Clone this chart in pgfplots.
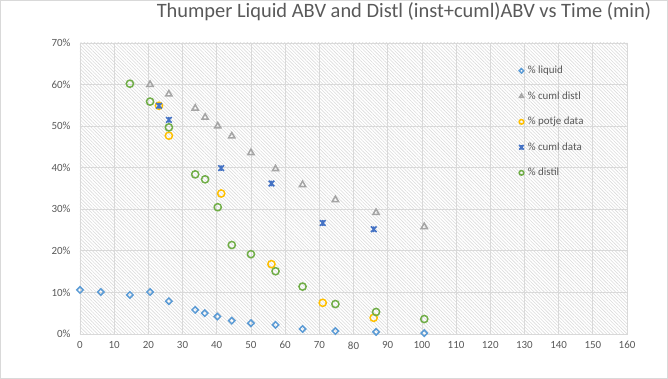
\documentclass[border=0pt]{standalone}
\usepackage{pgfplots}
\pgfplotsset{compat=1.18}
\usepackage{fontspec}
\setmainfont{Carlito}
\usetikzlibrary{patterns.meta}
\definecolor{cliq}{HTML}{5B9BD5}
\definecolor{ccd}{HTML}{A5A5A5}
\definecolor{cpot}{HTML}{FFC000}
\definecolor{ccdata}{HTML}{4472C4}
\definecolor{cdis}{HTML}{70AD47}
\definecolor{textc}{HTML}{595959}
\definecolor{gridc}{HTML}{D9D9D9}
\pgfdeclareplotmark{xstar}{%
\pgfpathmoveto{\pgfqpoint{-\pgfplotmarksize}{-\pgfplotmarksize}}%
\pgfpathlineto{\pgfqpoint{\pgfplotmarksize}{\pgfplotmarksize}}%
\pgfpathmoveto{\pgfqpoint{-\pgfplotmarksize}{\pgfplotmarksize}}%
\pgfpathlineto{\pgfqpoint{\pgfplotmarksize}{-\pgfplotmarksize}}%
\pgfpathmoveto{\pgfqpoint{0pt}{-\pgfplotmarksize}}%
\pgfpathlineto{\pgfqpoint{0pt}{\pgfplotmarksize}}%
\pgfusepathqstroke}
\pgfdeclareplotmark{dmd}{%
\pgfpathmoveto{\pgfqpoint{0pt}{\pgfplotmarksize}}%
\pgfpathlineto{\pgfqpoint{\pgfplotmarksize}{0pt}}%
\pgfpathlineto{\pgfqpoint{0pt}{-\pgfplotmarksize}}%
\pgfpathlineto{\pgfqpoint{-\pgfplotmarksize}{0pt}}%
\pgfpathclose
\pgfusepathqstroke}
\begin{document}
\begin{tikzpicture}
\begin{axis}[
  at={(0,0)}, anchor=south west,
  width=547bp, height=291bp, scale only axis,
  xmin=0, xmax=160, ymin=0, ymax=70,
  xtick={0,10,...,160}, ytick={0,10,...,70},
  yticklabel={\pgfmathprintnumber{\tick}\%},
  /pgf/number format/assume math mode=true,
  grid=major, major grid style={draw=gridc, line width=0.75bp},
  axis line style={draw=gridc, line width=0.75bp},
  tick style={draw=none},
  ticklabel style={font=\fontsize{11}{13}\selectfont, text=textc},
  yticklabel style={xshift=-6bp},
  xticklabel style={yshift=-4bp},
  axis background/.style={pattern={Lines[angle=-45,distance=2.4bp,line width=0.6bp]}, pattern color=gray!28},
  only marks,
  legend image code/.code={\draw[mark repeat=1,#1,mark size=2.3bp] plot coordinates {(0cm,0cm)};},
  legend style={draw=none, fill=none, at={(rel axis cs:0.797,0.935)}, anchor=north west,
    font=\fontsize{11}{13}\selectfont, text=textc, row sep=12bp,
    /tikz/every odd column/.append style={column sep=2.5bp},
    /tikz/every even column/.append style={column sep=0bp},
    nodes={text height=8bp, text depth=2.5bp, inner sep=1.5bp}},
  legend cell align=left,
]
\addplot[mark=dmd, mark size=3.2bp, draw=cliq, line width=1.5bp] coordinates {
(0,10.6) (6.1,10.1) (14.6,9.4) (20.5,10.1) (26.0,7.9) (33.7,5.8) (36.5,5.0)
(40.2,4.2) (44.4,3.2) (50.0,2.6) (57.2,2.2) (65.1,1.2) (74.7,0.7) (86.6,0.5) (100.7,0.2)};
\addlegendentry{\% liquid}
\addplot[mark=triangle, mark size=3.6bp, draw=ccd, line width=1.5bp] coordinates {
(20.5,60.0) (26.0,57.7) (33.7,54.3) (36.6,52.1) (40.3,50.0) (44.4,47.6) (50.0,43.6)
(57.2,39.7) (65.1,35.9) (74.7,32.3) (86.6,29.2) (100.7,25.8)};
\addlegendentry{\% cuml distl}
\addplot[mark=o, mark size=3.6bp, draw=cpot, line width=1.5bp] coordinates {
(23.1,54.9) (26.0,47.7) (41.3,33.8) (56.0,16.8) (71.0,7.5) (85.9,3.9)};
\addlegendentry{\% potje data}
\addplot[mark=xstar, mark size=2.8bp, draw=ccdata, line width=1.6bp] coordinates {
(23.1,54.9) (26.0,51.5) (41.3,39.9) (56.0,36.2) (71.0,26.7) (85.9,25.2)};
\addlegendentry{\% cuml data}
\addplot[mark=o, mark size=3.6bp, draw=cdis, line width=1.5bp] coordinates {
(14.6,60.2) (20.5,55.9) (26.0,49.7) (33.7,38.4) (36.6,37.2) (40.3,30.5) (44.4,21.4)
(50.0,19.2) (57.2,15.1) (65.1,11.4) (74.7,7.2) (86.6,5.3) (100.7,3.6)};
\addlegendentry{\% distil}
\end{axis}
\draw[gridc, line width=0.75bp] (-79.6bp,-44.6bp) rectangle (587.6bp,333.6bp);
\node[anchor=base, font=\fontsize{20.5}{24}\selectfont, text=textc, inner sep=0pt] at (324bp,316.7bp) {Thumper Liquid ABV and Distl (inst+cuml)ABV vs Time (min)};
\end{tikzpicture}
\end{document}
